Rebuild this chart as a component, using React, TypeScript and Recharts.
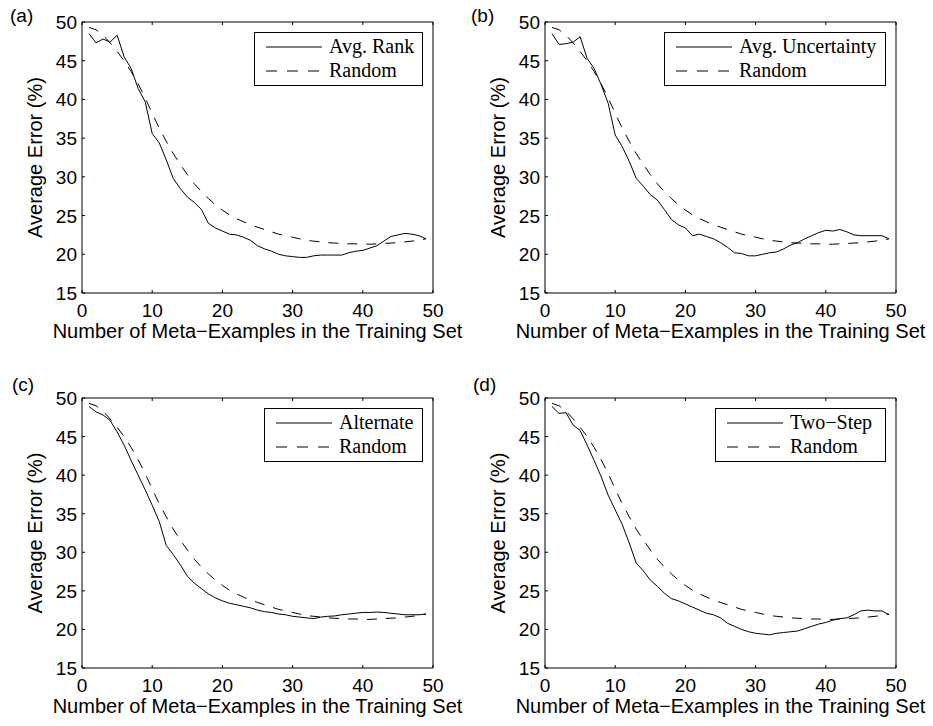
import React from 'react';
import { LineChart, Line, XAxis, YAxis, Legend } from 'recharts';

const trainingSize = [
  1, 2, 3, 4, 5, 6, 7, 8, 9, 10, 11, 12, 13, 14, 15, 16, 17, 18, 19, 20, 21, 22, 23, 24, 25,
  26, 27, 28, 29, 30, 31, 32, 33, 34, 35, 36, 37, 38, 39, 40, 41, 42, 43, 44, 45, 46, 47, 48, 49,
];

const randomErr = [
  49.3, 49.0, 48.3, 47.3, 46.2, 45.0, 43.6, 42.0, 40.2, 38.2,
  36.3, 34.6, 33.0, 31.6, 30.3, 29.1, 28.1, 27.2, 26.4, 25.7,
  25.1, 24.6, 24.2, 23.8, 23.5, 23.2, 22.9, 22.6, 22.4, 22.2,
  22.0, 21.8, 21.7, 21.6, 21.5, 21.45, 21.4, 21.35, 21.35, 21.3,
  21.3, 21.35, 21.4, 21.45, 21.5, 21.6, 21.7, 21.8, 22.0,
];

const avgRankErr = [
  48.5, 47.3, 47.8, 47.4, 48.3, 45.5, 44.0, 41.4, 39.7, 35.6,
  34.4, 32.2, 29.8, 28.5, 27.4, 26.7, 25.8, 24.0, 23.4, 23.0,
  22.6, 22.5, 22.2, 21.8, 21.1, 20.7, 20.4, 20.0, 19.8, 19.7,
  19.6, 19.6, 19.8, 19.9, 19.9, 19.9, 19.9, 20.2, 20.4, 20.5,
  20.8, 21.1, 21.7, 22.3, 22.5, 22.7, 22.6, 22.4, 22.0,
];

const avgUncertaintyErr = [
  48.5, 47.1, 47.2, 47.4, 48.1, 45.3, 44.0, 41.9, 39.5, 35.4,
  33.9, 32.0, 29.8, 28.8, 27.7, 27.0, 25.8, 24.5, 23.8, 23.4,
  22.4, 22.6, 22.3, 22.0, 21.5, 20.9, 20.2, 20.1, 19.8, 19.8,
  20.0, 20.2, 20.3, 20.7, 21.2, 21.5, 22.0, 22.4, 22.8, 23.1,
  23.0, 23.2, 22.9, 22.5, 22.4, 22.4, 22.4, 22.4, 22.0,
];

const alternateErr = [
  48.9, 48.2, 47.8, 47.1, 45.6, 43.9, 41.9, 40.0, 38.1, 36.1,
  34.0, 30.9, 29.7, 28.4, 26.9, 26.0, 25.3, 24.6, 24.1, 23.7,
  23.4, 23.2, 23.0, 22.8, 22.5, 22.3, 22.2, 22.0, 21.9, 21.7,
  21.6, 21.5, 21.4, 21.6, 21.7, 21.75, 21.9, 22.0, 22.1, 22.2,
  22.2, 22.25, 22.2, 22.1, 22.0, 21.9, 21.9, 21.9, 22.0,
];

const twoStepErr = [
  48.9, 48.0, 48.1, 46.5, 45.8, 43.9, 41.9, 39.8, 37.4, 35.5,
  33.6, 31.2, 28.6, 27.6, 26.4, 25.6, 24.7, 24.0, 23.7, 23.3,
  22.9, 22.5, 22.1, 21.9, 21.5, 20.8, 20.4, 20.0, 19.7, 19.5,
  19.4, 19.3, 19.5, 19.6, 19.7, 19.8, 20.1, 20.4, 20.7, 20.9,
  21.2, 21.4, 21.5, 21.9, 22.4, 22.5, 22.4, 22.4, 21.9,
];

const xTicks = [0, 10, 20, 30, 40, 50];
const yTicks = [15, 20, 25, 30, 35, 40, 45, 50];

const SANS = '"Liberation Sans", Arial, Helvetica, sans-serif';
const SERIF = '"Liberation Serif", "Times New Roman", serif';
const DASH = '10 9';

const panels = [
  { tag: '(a)', name: 'Avg. Rank', values: avgRankErr, left: 0, top: 0, h: 360, plotL: 82, plotR: 433, plotT: 22, plotB: 293, legendW: 169, tagX: 10, tagY: 24 },
  { tag: '(b)', name: 'Avg. Uncertainty', values: avgUncertaintyErr, left: 466, top: 0, h: 360, plotL: 79, plotR: 430, plotT: 22, plotB: 293, legendW: 222, tagX: 5, tagY: 24 },
  { tag: '(c)', name: 'Alternate', values: alternateErr, left: 0, top: 360, h: 366, plotL: 82, plotR: 433, plotT: 38, plotB: 308, legendW: 159, tagX: 12, tagY: 33 },
  { tag: '(d)', name: 'Two\u2212Step', values: twoStepErr, left: 466, top: 360, h: 366, plotL: 79, plotR: 430, plotT: 38, plotB: 308, legendW: 171, tagX: 7, tagY: 33 },
];

const W = 466;

const BottomTick = (props: any) => {
  const { x, y, payload } = props;
  return (
    <g>
      <line x1={x} x2={x} y1={y} y2={y - 3} stroke="#000" />
      <text x={x} y={y + 24} textAnchor="middle" fontSize={19} fontFamily={SANS} fill="#000">
        {payload.value}
      </text>
    </g>
  );
};

const TopTick = (props: any) => {
  const { x, y } = props;
  return <line x1={x} x2={x} y1={y} y2={y + 3} stroke="#000" />;
};

const LeftTick = (props: any) => {
  const { x, y, payload } = props;
  return (
    <g>
      <line x1={x} x2={x + 3} y1={y} y2={y} stroke="#000" />
      <text x={x - 5} y={y + 7} textAnchor="end" fontSize={19} fontFamily={SANS} fill="#000">
        {payload.value}
      </text>
    </g>
  );
};

const RightTick = (props: any) => {
  const { x, y } = props;
  return <line x1={x} x2={x - 3} y1={y} y2={y} stroke="#000" />;
};

const LegendBox = ({ name, width }: { name: string; width: number }) => (
  <svg width={width} height={54} style={{ display: 'block' }}>
    <rect x={0.5} y={0.5} width={width - 1} height={53} fill="#fff" stroke="#000" />
    <line x1={12} x2={68} y1={15} y2={15} stroke="#000" />
    <text x={75} y={21} fontSize={20} fontFamily={SERIF} fill="#000">{name}</text>
    <line x1={12} x2={68} y1={39} y2={39} stroke="#000" strokeDasharray="11 10" />
    <text x={75} y={45} fontSize={20} fontFamily={SERIF} fill="#000">Random</text>
  </svg>
);

const Panel = ({ p }: { p: typeof panels[number] }) => {
  const data = trainingSize.map((n, i) => ({ n, method: p.values[i], random: randomErr[i] }));
  return (
    <div style={{ position: 'absolute', left: p.left, top: p.top, width: W, height: p.h }}>
      <div style={{ position: 'absolute', left: p.tagX, top: p.tagY - 19, fontFamily: SANS, fontSize: 19, lineHeight: '22px' }}>
        {p.tag}
      </div>
      <LineChart
        width={W}
        height={p.h}
        data={data}
        margin={{ top: p.plotT - 1, right: W - p.plotR - 1, left: 0, bottom: 0 }}
      >
        <XAxis
          xAxisId="bottom"
          dataKey="n"
          type="number"
          domain={[0, 50]}
          ticks={xTicks}
          height={p.h - p.plotB}
          tickSize={0}
          tickMargin={0}
          tickLine={false}
          axisLine={{ stroke: '#000' }}
          tick={BottomTick}
          interval={0}
          label={{
            value: 'Number of Meta\u2212Examples in the Training Set',
            position: 'insideBottom',
            offset: p.h - p.plotB - 45,
            style: { fontFamily: SANS, fontSize: 20, fill: '#000' },
          }}
        />
        <XAxis
          xAxisId="top"
          orientation="top"
          dataKey="n"
          type="number"
          domain={[0, 50]}
          ticks={xTicks}
          height={1}
          tickSize={0}
          tickMargin={0}
          tickLine={false}
          axisLine={{ stroke: '#000' }}
          tick={TopTick}
          interval={0}
        />
        <YAxis
          yAxisId="left"
          type="number"
          domain={[15, 50]}
          ticks={yTicks}
          width={p.plotL}
          tickSize={0}
          tickMargin={0}
          tickLine={false}
          axisLine={{ stroke: '#000' }}
          tick={LeftTick}
          interval={0}
          label={{
            value: 'Average Error (%)',
            angle: -90,
            position: 'insideLeft',
            offset: p.plotL - 47,
            style: { textAnchor: 'middle', fontFamily: SANS, fontSize: 20, fill: '#000' },
          }}
        />
        <YAxis
          yAxisId="right"
          orientation="right"
          type="number"
          domain={[15, 50]}
          ticks={yTicks}
          width={1}
          tickSize={0}
          tickMargin={0}
          tickLine={false}
          axisLine={{ stroke: '#000' }}
          tick={RightTick}
          interval={0}
        />
        <Line
          xAxisId="bottom"
          yAxisId="left"
          dataKey="random"
          type="linear"
          stroke="#000"
          strokeWidth={1}
          strokeDasharray={DASH}
          dot={false}
          activeDot={false}
          isAnimationActive={false}
        />
        <Line
          xAxisId="bottom"
          yAxisId="left"
          dataKey="method"
          type="linear"
          stroke="#000"
          strokeWidth={1}
          dot={false}
          activeDot={false}
          isAnimationActive={false}
        />
        <Legend
          layout="horizontal"
          verticalAlign="middle"
          align="center"
          wrapperStyle={{ left: p.plotR - 10 - p.legendW, top: p.plotT + 10, width: p.legendW, height: 54 }}
          content={() => <LegendBox name={p.name} width={p.legendW} />}
        />
      </LineChart>
    </div>
  );
};

export default function App() {
  return (
    <div style={{ position: 'absolute', left: 0, top: 0, width: 933, height: 726, background: '#fff' }}>
      {panels.map((p) => (
        <Panel key={p.tag} p={p} />
      ))}
    </div>
  );
}
